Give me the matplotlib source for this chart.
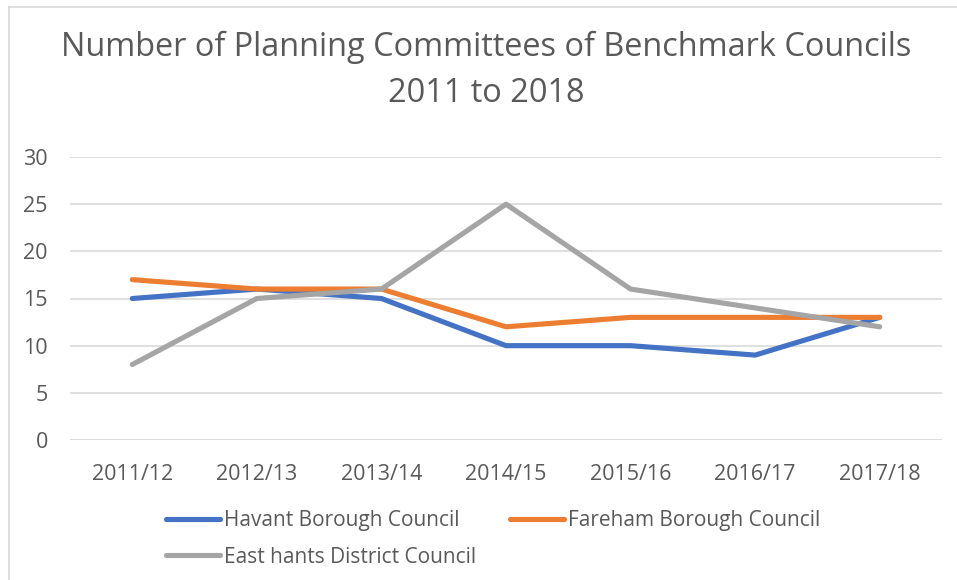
import matplotlib.pyplot as plt
from matplotlib.lines import Line2D

plt.rcParams['font.family'] = ['Open Sans', 'DejaVu Sans']

# data
years = ['2011/12', '2012/13', '2013/14', '2014/15', '2015/16', '2016/17', '2017/18']
havant = [15, 16, 15, 10, 10, 9, 13]
fareham = [17, 16, 16, 12, 13, 13, 13]
east_hants = [8, 15, 16, 25, 16, 14, 12]

W, H = 957, 580
fig = plt.figure(figsize=(W / 100, H / 100), dpi=100)
ax = fig.add_axes([70 / W, 1 - 440 / H, 872 / W, 283 / H])

x = range(len(years))
l1, = ax.plot(x, havant, color='#4472C4', lw=3.7, label='Havant Borough Council', solid_capstyle='round')
l2, = ax.plot(x, fareham, color='#ED7D31', lw=3.7, label='Fareham Borough Council', solid_capstyle='round')
l3, = ax.plot(x, east_hants, color='#A5A5A5', lw=3.7, label='East hants District Council', solid_capstyle='round')

ax.set_xlim(-0.5, len(years) - 0.5)
ax.set_ylim(0, 30)
ax.set_yticks(range(0, 31, 5))
ax.set_xticks(list(x))
ax.set_xticklabels(years)
ax.grid(axis='y', color='#D9D9D9', lw=1.2)
ax.set_axisbelow(True)
for s in ax.spines.values():
    s.set_visible(False)
ax.tick_params(length=0, labelsize=15.5, colors='#595959')
ax.tick_params(axis='x', pad=17)
ax.tick_params(axis='y', pad=16)

# title, two lines
fig.text(0.508, 1 - 47 / H, 'Number of Planning Committees of Benchmark Councils',
         ha='center', va='center', fontsize=23.4, color='#595959')
fig.text(0.508, 1 - 93 / H, '2011 to 2018',
         ha='center', va='center', fontsize=23.4, color='#595959')

# legend: row-wise order (matplotlib fills columns first)
leg = fig.legend([l1, l3, l2], [l1.get_label(), l3.get_label(), l2.get_label()],
                 loc='upper left', bbox_to_anchor=(166 / W, 1 - 510 / H), ncol=2,
                 frameon=False, fontsize=15, labelcolor='#595959',
                 handlelength=2.6, handletextpad=0.2, columnspacing=1.6,
                 borderpad=0, borderaxespad=0, labelspacing=0.75)

# chart area border (cropped: only top and left visible)
fig.add_artist(Line2D([9 / W, 9 / W], [0, 1 - 7 / H], color='#D9D9D9', lw=1.2))
fig.add_artist(Line2D([9 / W, 1], [1 - 7 / H, 1 - 7 / H], color='#D9D9D9', lw=1.2))

fig.savefig('out.png', dpi=100)
